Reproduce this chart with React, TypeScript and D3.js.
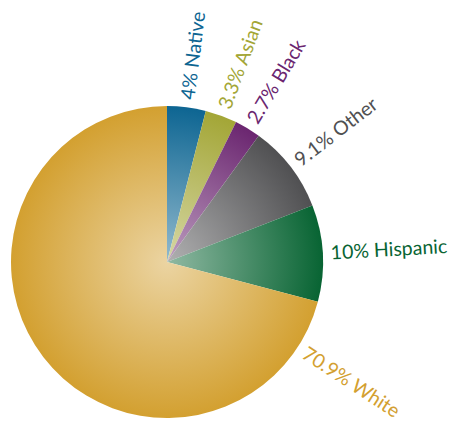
import React, { useEffect, useRef } from 'react';
import * as d3 from 'd3';

const categories = ['Native', 'Asian', 'Black', 'Other', 'Hispanic', 'White'];
const shares = [4, 3.3, 2.7, 9.1, 10, 70.9];
const labels = ['4%', '3.3%', '2.7%', '9.1%', '10%', '70.9%'];
const colors = ['#0d6592', '#a3a636', '#6b2670', '#505052', '#086433', '#d3a030'];

export default function App() {
  const svgRef = useRef<SVGSVGElement>(null);

  useEffect(() => {
    if (!svgRef.current) return;

    const width = 450;
    const height = 423;
    const radius = 156;
    const cx = 167;
    const cy = 262;

    d3.select(svgRef.current).selectAll('*').remove();

    const root = d3.select(svgRef.current)
      .attr('width', width)
      .attr('height', height);

    const defs = root.append('defs');
    colors.forEach((c, i) => {
      const g = defs.append('radialGradient')
        .attr('id', `grad${i}`)
        .attr('gradientUnits', 'userSpaceOnUse')
        .attr('cx', 0).attr('cy', 0).attr('r', radius);
      g.append('stop').attr('offset', '0%').attr('stop-color', d3.interpolateRgb(c, '#fff')(0.55));
      g.append('stop').attr('offset', '100%').attr('stop-color', c);
    });

    const svg = root.append('g')
      .attr('transform', `translate(${cx}, ${cy})`);

    const data = categories.map((name, i) => ({ name, value: shares[i], label: labels[i], i }));

    const pie = d3.pie<typeof data[number]>()
      .value(d => d.value)
      .sort(null);

    const arc = d3.arc<d3.PieArcDatum<typeof data[number]>>()
      .innerRadius(0)
      .outerRadius(radius);

    const arcs = pie(data);

    svg.selectAll('path')
      .data(arcs)
      .enter()
      .append('path')
      .attr('d', arc)
      .attr('fill', d => `url(#grad${d.data.i})`);

    // radial labels; large slices get their label near the start
    const labelAngle = (d: d3.PieArcDatum<typeof data[number]>) => {
      const mid = (d.startAngle + d.endAngle) / 2;
      return Math.min(mid, d.startAngle + 0.32);
    };

    svg.selectAll('text')
      .data(arcs)
      .enter()
      .append('text')
      .attr('transform', d => {
        const a = labelAngle(d);
        const deg = (a * 180) / Math.PI - 90;
        return `rotate(${deg}) translate(${radius + 8}, 0)`;
      })
      .attr('dy', '0.35em')
      .attr('fill', d => colors[d.data.i])
      .style('font-family', 'Lato, "Open Sans", sans-serif')
      .style('font-size', '19.5px')
      .text(d => `${d.data.label} ${d.data.name}`);
  }, []);

  return <svg ref={svgRef} style={{ position: 'absolute', left: 0, top: 0 }}></svg>;
}
